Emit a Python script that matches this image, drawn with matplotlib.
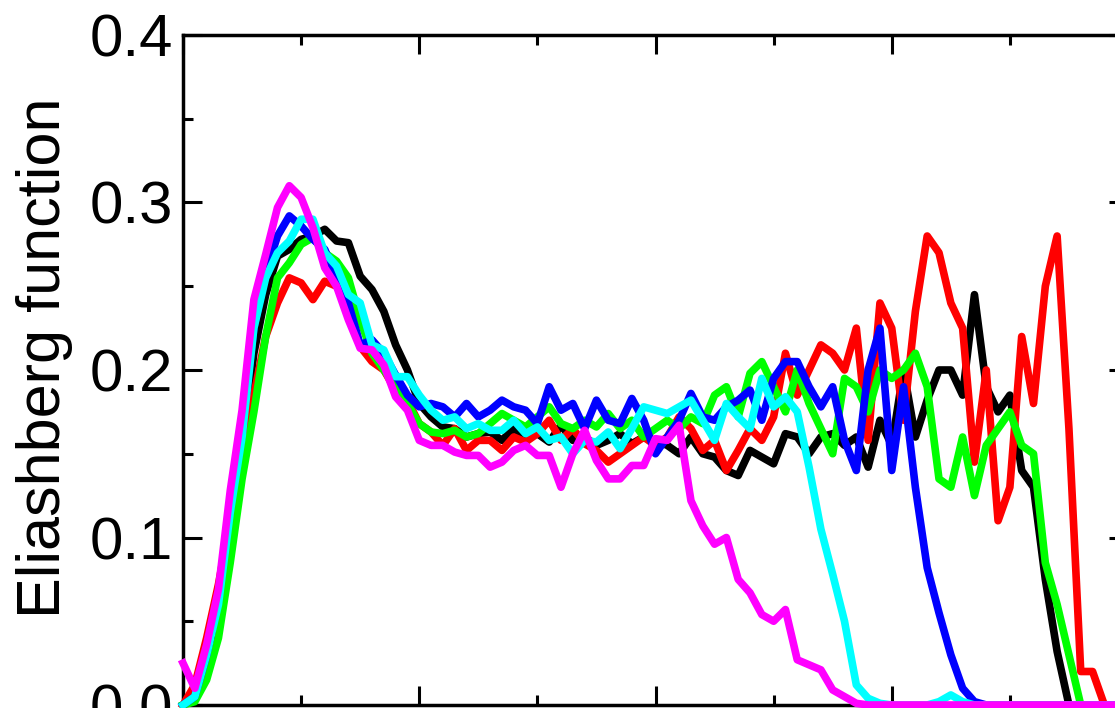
import numpy as np
import matplotlib
matplotlib.use('Agg')
import matplotlib.pyplot as plt
from matplotlib.ticker import MultipleLocator

# phonon energy grid (meV), one point per meV
omega = np.arange(0, 81, 1)

black = [0.0, 0.004, 0.025, 0.058, 0.11, 0.155, 0.21, 0.245, 0.268, 0.272,
         0.278, 0.28, 0.284, 0.277, 0.276, 0.256, 0.248, 0.235, 0.215, 0.2,
         0.18, 0.172, 0.166, 0.165, 0.16, 0.162, 0.163, 0.158, 0.165, 0.16,
         0.162, 0.157, 0.167, 0.158, 0.16, 0.155, 0.158, 0.162, 0.156, 0.16,
         0.158, 0.155, 0.15, 0.16, 0.15, 0.148, 0.14, 0.137, 0.152, 0.148,
         0.144, 0.162, 0.16, 0.15, 0.16, 0.162, 0.155, 0.16, 0.142, 0.17,
         0.155, 0.2, 0.16, 0.182, 0.2, 0.2, 0.185, 0.245, 0.19, 0.175,
         0.185, 0.14, 0.13, 0.075, 0.032, 0.0, 0.0, 0.0, 0.0, 0.0, 0.0]

red = [0.0, 0.012, 0.04, 0.072, 0.11, 0.15, 0.185, 0.22, 0.24, 0.255,
       0.252, 0.242, 0.253, 0.25, 0.238, 0.214, 0.205, 0.2, 0.188, 0.182,
       0.168, 0.163, 0.155, 0.165, 0.152, 0.158, 0.158, 0.152, 0.16, 0.157,
       0.162, 0.17, 0.158, 0.165, 0.156, 0.152, 0.145, 0.15, 0.155, 0.16,
       0.155, 0.16, 0.172, 0.165, 0.152, 0.158, 0.14, 0.152, 0.165, 0.158,
       0.172, 0.21, 0.185, 0.2, 0.215, 0.21, 0.2, 0.225, 0.158, 0.24,
       0.225, 0.17, 0.235, 0.28, 0.27, 0.24, 0.225, 0.145, 0.2, 0.11,
       0.13, 0.22, 0.18, 0.25, 0.28, 0.165, 0.02, 0.02, 0.0, 0.0, 0.0]

green = [0.0, 0.002, 0.015, 0.04, 0.085, 0.135, 0.175, 0.22, 0.255, 0.264,
         0.275, 0.279, 0.27, 0.265, 0.255, 0.23, 0.21, 0.2, 0.19, 0.18,
         0.168, 0.163, 0.162, 0.164, 0.16, 0.162, 0.168, 0.174, 0.17, 0.166,
         0.172, 0.178, 0.168, 0.165, 0.17, 0.166, 0.174, 0.165, 0.17, 0.16,
         0.165, 0.17, 0.165, 0.172, 0.168, 0.185, 0.19, 0.172, 0.198, 0.205,
         0.19, 0.175, 0.2, 0.18, 0.165, 0.15, 0.195, 0.19, 0.175, 0.2,
         0.195, 0.2, 0.21, 0.19, 0.135, 0.13, 0.16, 0.125, 0.155, 0.165,
         0.175, 0.155, 0.15, 0.085, 0.06, 0.03, 0.0, 0.0, 0.0, 0.0, 0.0]

blue = [0.0, 0.005, 0.03, 0.065, 0.12, 0.165, 0.225, 0.258, 0.28, 0.292,
        0.286, 0.278, 0.272, 0.255, 0.24, 0.215, 0.218, 0.21, 0.197, 0.185,
        0.178, 0.18, 0.178, 0.172, 0.18, 0.172, 0.176, 0.182, 0.178, 0.176,
        0.168, 0.19, 0.176, 0.18, 0.165, 0.182, 0.17, 0.168, 0.183, 0.17,
        0.15, 0.16, 0.17, 0.186, 0.172, 0.17, 0.178, 0.182, 0.188, 0.17,
        0.195, 0.205, 0.205, 0.19, 0.178, 0.19, 0.158, 0.14, 0.2, 0.225,
        0.14, 0.19, 0.13, 0.082, 0.055, 0.03, 0.01, 0.002, 0.0, 0.0,
        0.0, 0.0, 0.0, 0.0, 0.0, 0.0, 0.0, 0.0, 0.0, 0.0, 0.0]

cyan = [0.0, 0.005, 0.03, 0.06, 0.115, 0.16, 0.225, 0.255, 0.27, 0.277,
        0.29, 0.29, 0.27, 0.262, 0.245, 0.24, 0.215, 0.212, 0.196, 0.196,
        0.185, 0.176, 0.17, 0.172, 0.165, 0.168, 0.164, 0.164, 0.17, 0.162,
        0.166, 0.158, 0.16, 0.15, 0.158, 0.157, 0.163, 0.153, 0.165, 0.178,
        0.176, 0.174, 0.178, 0.182, 0.17, 0.158, 0.18, 0.172, 0.165, 0.195,
        0.178, 0.184, 0.175, 0.142, 0.105, 0.078, 0.05, 0.012, 0.004, 0.001,
        0.0, 0.0, 0.0, 0.0, 0.002, 0.006, 0.002, 0.0, 0.0, 0.0,
        0.0, 0.0, 0.0, 0.0, 0.0, 0.0, 0.0, 0.0, 0.0, 0.0, 0.0]

magenta = [0.025, 0.01, 0.036, 0.069, 0.128, 0.176, 0.242, 0.269, 0.297, 0.31,
           0.303, 0.285, 0.261, 0.25, 0.23, 0.213, 0.212, 0.203, 0.184, 0.176,
           0.158, 0.155, 0.155, 0.151, 0.149, 0.149, 0.142, 0.145, 0.152, 0.155,
           0.149, 0.149, 0.13, 0.15, 0.164, 0.146, 0.135, 0.135, 0.143, 0.143,
           0.159, 0.158, 0.167, 0.122, 0.107, 0.096, 0.1, 0.075, 0.067, 0.054,
           0.05, 0.057, 0.027, 0.024, 0.021, 0.009, 0.005, 0.001, 0.0, 0.0,
           0.0, 0.0, 0.0, 0.0, 0.0, 0.0, 0.0, 0.0, 0.0, 0.0,
           0.0, 0.0, 0.0, 0.0, 0.0, 0.0, 0.0, 0.0, 0.0, 0.0, 0.0]

series = [(black, 'black'), (red, 'red'), (green, '#00ff00'),
          (blue, 'blue'), (cyan, 'cyan'), (magenta, 'magenta')]

plt.rcParams['font.family'] = ['Liberation Sans', 'DejaVu Sans']

fig = plt.figure(figsize=(11.15, 7.08), dpi=100)
ax = fig.add_axes([183 / 1115, 3 / 708, 945 / 1115, 670 / 708])

for vals, col in series:
    ax.plot(omega, vals, color=col, lw=5.5, clip_on=False, zorder=3,
            solid_joinstyle='round')

ax.set_xlim(0, 80)
ax.set_ylim(0, 0.4)
ax.xaxis.set_major_locator(MultipleLocator(20))
ax.xaxis.set_minor_locator(MultipleLocator(10))
ax.yaxis.set_major_locator(MultipleLocator(0.1))
ax.yaxis.set_minor_locator(MultipleLocator(0.05))
ax.yaxis.set_major_formatter(plt.FuncFormatter(lambda v, p: '%.1f' % v))

ax.tick_params(which='both', direction='in', top=True, right=True,
               width=2.2, labelsize=43, pad=7, labelbottom=False)
ax.tick_params(which='major', length=13.7)
ax.tick_params(which='minor', length=7)
for s in ax.spines.values():
    s.set_linewidth(2.5)

ax.set_ylabel('Eliashberg function', fontsize=44)
ax.yaxis.set_label_coords(-0.116, 0.519)

fig.savefig('out.png', dpi=100)
